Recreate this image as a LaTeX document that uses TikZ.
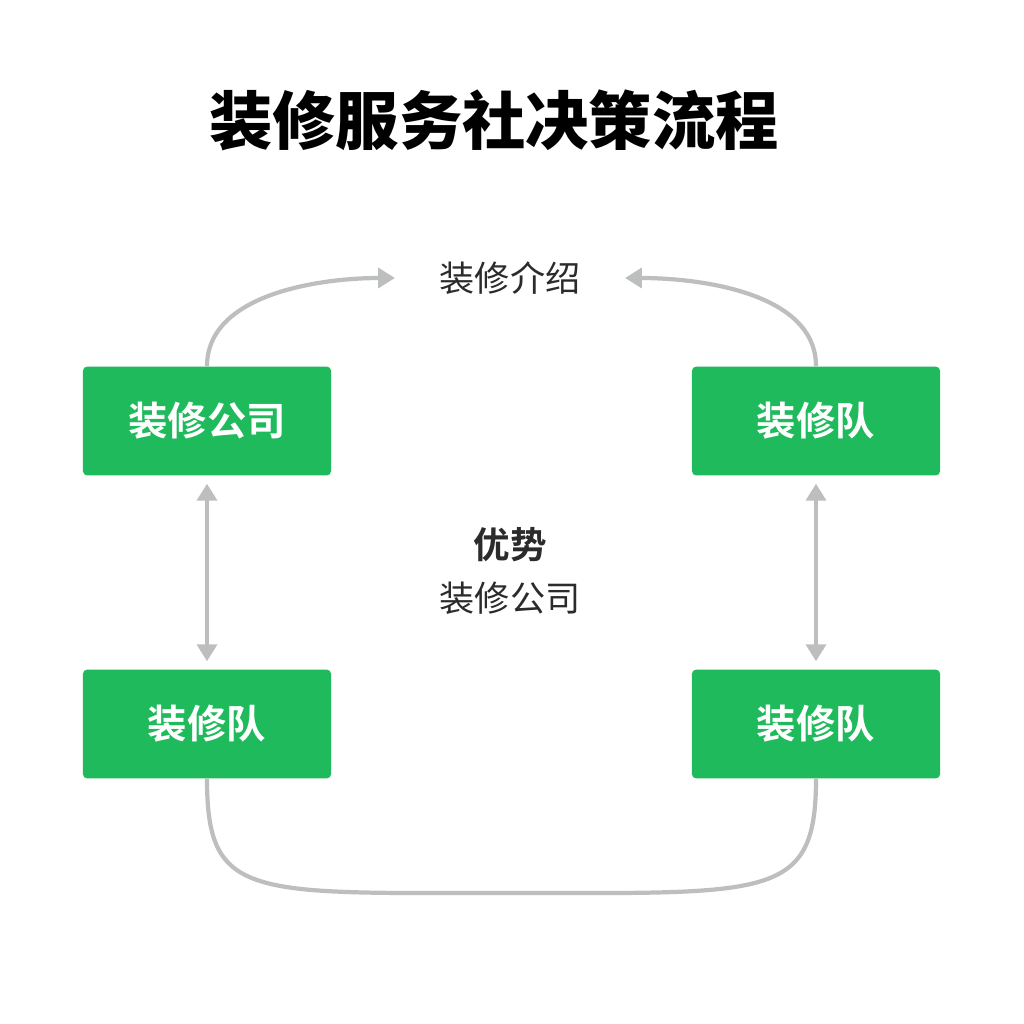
\documentclass[tikz,border=0pt]{standalone}
\usepackage{fontspec}
\setmainfont{Noto Sans CJK SC}[BoldFont={Noto Sans CJK SC Bold}]
\newfontfamily\titlefont{Noto Sans CJK SC Black}
\usepackage{tikz}
\usetikzlibrary{arrows.meta, positioning}
\definecolor{boxgreen}{HTML}{1FBA5C}
\definecolor{linegray}{HTML}{BDBFBE}
\definecolor{textdark}{HTML}{2B2B2B}

\begin{document}
\begin{tikzpicture}[
    x=0.025cm, y=-0.025cm,
    stage/.style={rectangle, rounded corners=3pt, fill=boxgreen, minimum width=6.2cm, minimum height=2.72cm, text=white, font=\fontsize{28}{30}\selectfont\bfseries},
    caption/.style={text=textdark, font=\fontsize{25}{28}\selectfont},
    link/.style={draw=linegray, line width=3pt, -{Triangle[length=12pt,width=14pt]}},
    pair/.style={draw=linegray, line width=3pt, {Triangle[length=12pt,width=14pt]}-{Triangle[length=12pt,width=14pt]}}
]
\useasboundingbox[fill=white] (0,0) rectangle (1024,1024);

% Title
\node[font=\titlefont\fontsize{45}{48}\selectfont] (title) at (494,120) {装修服务社决策流程};

% Stages
\node[stage] (company) at (207,421) {装修公司};
\node[stage] (teamtop) at (816,421) {装修队};
\node[stage] (teamleft) at (207,724) {装修队};
\node[stage] (teamright) at (816,724) {装修队};

% Captions
\node[caption] (intro) at (510,278) {装修介绍};
\node[caption, font=\fontsize{26}{28}\selectfont\bfseries] (adv) at (510,545) {优势};
\node[caption] (advtext) at (510,598) {装修公司};

% Links
\coordinate (introleft) at (395,278);
\coordinate (introright) at (625,278);
\draw[link] (company.north) to[out=90, in=180, looseness=0.9] (introleft);
\draw[link] (teamtop.north) to[out=90, in=0, looseness=0.9] (introright);
\draw[pair] ([yshift=-0.2cm]company.south) -- ([yshift=0.2cm]teamleft.north);
\draw[pair] ([yshift=-0.2cm]teamtop.south) -- ([yshift=0.2cm]teamright.north);
\draw[draw=linegray, line width=3pt] (teamleft.south) .. controls (207,900) and (250,893) .. (510,893) .. controls (770,893) and (816,900) .. (teamright.south);

\end{tikzpicture}
\end{document}
